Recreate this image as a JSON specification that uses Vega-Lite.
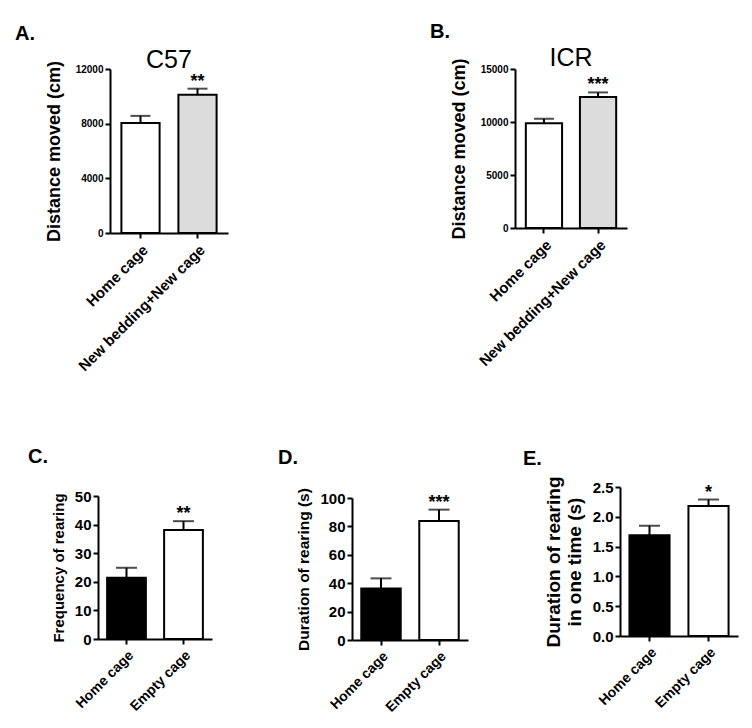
{
  "$schema": "https://vega.github.io/schema/vega-lite/v6.json",
  "background": "white",
  "padding": {"left": 15, "top": 21, "right": 5, "bottom": 5},
  "config": {
    "view": {"stroke": null},
    "font": "Liberation Sans",
    "axis": {
      "domainColor": "black", "domainWidth": 2, "tickColor": "black", "tickWidth": 2, "tickSize": 5,
      "labelColor": "black", "labelFont": "Liberation Sans", "labelFontWeight": "bold", "labelOverlap": false,
      "titleColor": "black", "titleFont": "Liberation Sans", "titleFontWeight": "bold", "grid": false
    },
    "title": {"color": "black", "font": "Liberation Sans"}
  },
  "datasets": {
    "A": [
      {"group": "Home cage", "mean": 8050, "upper": 8570, "sig": ""},
      {"group": "New bedding+New cage", "mean": 10110, "upper": 10560, "sig": "**"}
    ],
    "B": [
      {"group": "Home cage", "mean": 9880, "upper": 10300, "sig": ""},
      {"group": "New bedding+New cage", "mean": 12350, "upper": 12790, "sig": "***"}
    ],
    "C": [
      {"group": "Home cage", "mean": 21.4, "upper": 24.9, "sig": ""},
      {"group": "Empty cage", "mean": 38.1, "upper": 41.2, "sig": "**"}
    ],
    "D": [
      {"group": "Home cage", "mean": 36.2, "upper": 43.4, "sig": ""},
      {"group": "Empty cage", "mean": 83.8, "upper": 91.8, "sig": "***"}
    ],
    "E": [
      {"group": "Home cage", "mean": 1.69, "upper": 1.85, "sig": ""},
      {"group": "Empty cage", "mean": 2.18, "upper": 2.29, "sig": "*"}
    ]
  },
  "bounds": "flush",
  "spacing": 418,
  "vconcat": [
    {
      "bounds": "flush",
      "spacing": 417,
      "hconcat": [
        {
          "bounds": "flush",
          "title": {"text": "A.", "anchor": "start", "frame": "group", "fontSize": 20, "fontWeight": "bold", "dx": -83, "offset": 4},
          "vconcat": [
            {
              "title": {"text": "C57", "fontSize": 25, "fontWeight": "normal", "anchor": "middle", "frame": "group", "dx": 6, "offset": -13},
              "data": {"name": "A"},
              "width": 130, "height": 164,
              "encoding": {
                "x": {"field": "group", "type": "nominal", "sort": null, "title": null,
                      "scale": {"paddingInner": 0.33, "paddingOuter": 0.2, "range": [12, 130]},
                      "axis": {"labelAngle": -45, "labelFontSize": 15, "labelPadding": 4}}
              },
              "layer": [
                {"mark": {"type": "rule", "color": "black", "strokeWidth": 2},
                 "encoding": {"y": {"field": "mean", "type": "quantitative"}, "y2": {"field": "upper"}}},
                {"mark": {"type": "bar", "stroke": "black", "strokeWidth": 2},
                 "encoding": {
                   "y": {"field": "mean", "type": "quantitative", "title": "Distance moved (cm)",
                         "scale": {"domain": [0, 12000], "nice": false},
                         "axis": {"values": [0, 4000, 8000, 12000], "tickCount": 20, "format": "d", "labelFontSize": 10, "titleFontSize": 18, "titlePadding": 12, "offset": -12}},
                   "fill": {"condition": {"test": "datum.group === 'Home cage'", "value": "white"}, "value": "#dcdcdc"}
                 }},
                {"mark": {"type": "tick", "color": "black", "thickness": 2, "size": 20},
                 "encoding": {"y": {"field": "upper", "type": "quantitative"}}},
                {"mark": {"type": "text", "fontSize": 18, "fontWeight": "bold", "dy": -2, "baseline": "alphabetic"},
                 "encoding": {"y": {"field": "upper", "type": "quantitative"}, "text": {"field": "sig"}}}
              ]
            }
          ]
        },
        {
          "bounds": "flush",
          "title": {"text": "B.", "anchor": "start", "frame": "group", "fontSize": 20, "fontWeight": "bold", "dx": -85, "offset": 4},
          "vconcat": [
            {
              "title": {"text": "ICR", "fontSize": 25, "fontWeight": "normal", "anchor": "middle", "frame": "group", "offset": -13},
              "data": {"name": "B"},
              "width": 112, "height": 159,
              "encoding": {
                "x": {"field": "group", "type": "nominal", "sort": null, "title": null,
                      "scale": {"paddingInner": 0.33, "paddingOuter": 0.2},
                      "axis": {"labelAngle": -45, "labelFontSize": 15, "labelPadding": 4}}
              },
              "layer": [
                {"mark": {"type": "rule", "color": "black", "strokeWidth": 2},
                 "encoding": {"y": {"field": "mean", "type": "quantitative"}, "y2": {"field": "upper"}}},
                {"mark": {"type": "bar", "stroke": "black", "strokeWidth": 2},
                 "encoding": {
                   "y": {"field": "mean", "type": "quantitative", "title": "Distance moved (cm)",
                         "scale": {"domain": [0, 15000], "nice": false},
                         "axis": {"values": [0, 5000, 10000, 15000], "tickCount": 20, "format": "d", "labelFontSize": 10, "titleFontSize": 18, "titlePadding": 12}},
                   "fill": {"condition": {"test": "datum.group === 'Home cage'", "value": "white"}, "value": "#dcdcdc"}
                 }},
                {"mark": {"type": "tick", "color": "black", "thickness": 2, "size": 20},
                 "encoding": {"y": {"field": "upper", "type": "quantitative"}}},
                {"mark": {"type": "text", "fontSize": 18, "fontWeight": "bold", "dy": -2, "baseline": "alphabetic"},
                 "encoding": {"y": {"field": "upper", "type": "quantitative"}, "text": {"field": "sig"}}}
              ]
            }
          ]
        }
      ]
    },
    {
      "bounds": "flush",
      "spacing": 140,
      "hconcat": [
        {
          "title": {"text": "C.", "anchor": "start", "frame": "group", "fontSize": 20, "fontWeight": "bold", "dx": -70, "offset": 20},
          "data": {"name": "C"},
          "width": 114, "height": 152,
          "encoding": {
            "x": {"field": "group", "type": "nominal", "sort": null, "title": null,
                  "scale": {"paddingInner": 0.32, "paddingOuter": 0.16},
                  "axis": {"labelAngle": -45, "labelFontSize": 14, "labelPadding": 4}}
          },
          "layer": [
            {"mark": {"type": "rule", "color": "black", "strokeWidth": 2},
             "encoding": {"y": {"field": "mean", "type": "quantitative"}, "y2": {"field": "upper"}}},
            {"mark": {"type": "bar", "stroke": "black", "strokeWidth": 2},
             "encoding": {
               "y": {"field": "mean", "type": "quantitative", "title": "Frequency of rearing",
                     "scale": {"domain": [0, 50], "nice": false, "range": [152, 9]},
                     "axis": {"values": [0, 10, 20, 30, 40, 50], "tickCount": 20, "labelFontSize": 15, "titleFontSize": 15, "titlePadding": 8}},
               "fill": {"condition": {"test": "datum.group === 'Home cage'", "value": "black"}, "value": "white"}
             }},
            {"mark": {"type": "tick", "color": "black", "thickness": 2, "size": 21},
             "encoding": {"y": {"field": "upper", "type": "quantitative"}}},
            {"mark": {"type": "text", "fontSize": 18, "fontWeight": "bold", "dy": -2, "baseline": "alphabetic"},
             "encoding": {"y": {"field": "upper", "type": "quantitative"}, "text": {"field": "sig"}}}
          ]
        },
        {
          "title": {"text": "D.", "anchor": "start", "frame": "group", "fontSize": 20, "fontWeight": "bold", "dx": -74, "offset": 19},
          "data": {"name": "D"},
          "width": 116, "height": 153,
          "encoding": {
            "x": {"field": "group", "type": "nominal", "sort": null, "title": null,
                  "scale": {"paddingInner": 0.32, "paddingOuter": 0.16},
                  "axis": {"labelAngle": -45, "labelFontSize": 14, "labelPadding": 4}}
          },
          "layer": [
            {"mark": {"type": "rule", "color": "black", "strokeWidth": 2},
             "encoding": {"y": {"field": "mean", "type": "quantitative"}, "y2": {"field": "upper"}}},
            {"mark": {"type": "bar", "stroke": "black", "strokeWidth": 2},
             "encoding": {
               "y": {"field": "mean", "type": "quantitative", "title": "Duration of rearing (s)",
                     "scale": {"domain": [0, 100], "nice": false, "range": [153, 11]},
                     "axis": {"values": [0, 20, 40, 60, 80, 100], "tickCount": 20, "labelFontSize": 15, "titleFontSize": 15.5, "titlePadding": 8}},
               "fill": {"condition": {"test": "datum.group === 'Home cage'", "value": "black"}, "value": "white"}
             }},
            {"mark": {"type": "tick", "color": "black", "thickness": 2, "size": 21},
             "encoding": {"y": {"field": "upper", "type": "quantitative"}}},
            {"mark": {"type": "text", "fontSize": 18, "fontWeight": "bold", "dy": -2, "baseline": "alphabetic"},
             "encoding": {"y": {"field": "upper", "type": "quantitative"}, "text": {"field": "sig"}}}
          ]
        },
        {
          "title": {"text": "E.", "anchor": "start", "frame": "group", "fontSize": 20, "fontWeight": "bold", "dx": -85, "offset": 7},
          "data": {"name": "E"},
          "width": 130, "height": 149,
          "encoding": {
            "x": {"field": "group", "type": "nominal", "sort": null, "title": null,
                  "scale": {"paddingInner": 0.32, "paddingOuter": 0.16, "range": [12, 130]},
                  "axis": {"labelAngle": -45, "labelFontSize": 14, "labelPadding": 4}}
          },
          "layer": [
            {"mark": {"type": "rule", "color": "black", "strokeWidth": 2},
             "encoding": {"y": {"field": "mean", "type": "quantitative"}, "y2": {"field": "upper"}}},
            {"mark": {"type": "bar", "stroke": "black", "strokeWidth": 2},
             "encoding": {
               "y": {"field": "mean", "type": "quantitative", "title": ["Duration of rearing", "in one time (s)"],
                     "scale": {"domain": [0, 2.5], "nice": false},
                     "axis": {"values": [0, 0.5, 1, 1.5, 2, 2.5], "tickCount": 20, "format": ".1f", "labelFontSize": 15, "titleFontSize": 19, "titlePadding": 8, "offset": -12}},
               "fill": {"condition": {"test": "datum.group === 'Home cage'", "value": "black"}, "value": "white"}
             }},
            {"mark": {"type": "tick", "color": "black", "thickness": 2, "size": 21},
             "encoding": {"y": {"field": "upper", "type": "quantitative"}}},
            {"mark": {"type": "text", "fontSize": 18, "fontWeight": "bold", "dy": -2, "baseline": "alphabetic"},
             "encoding": {"y": {"field": "upper", "type": "quantitative"}, "text": {"field": "sig"}}}
          ]
        }
      ]
    }
  ]
}
